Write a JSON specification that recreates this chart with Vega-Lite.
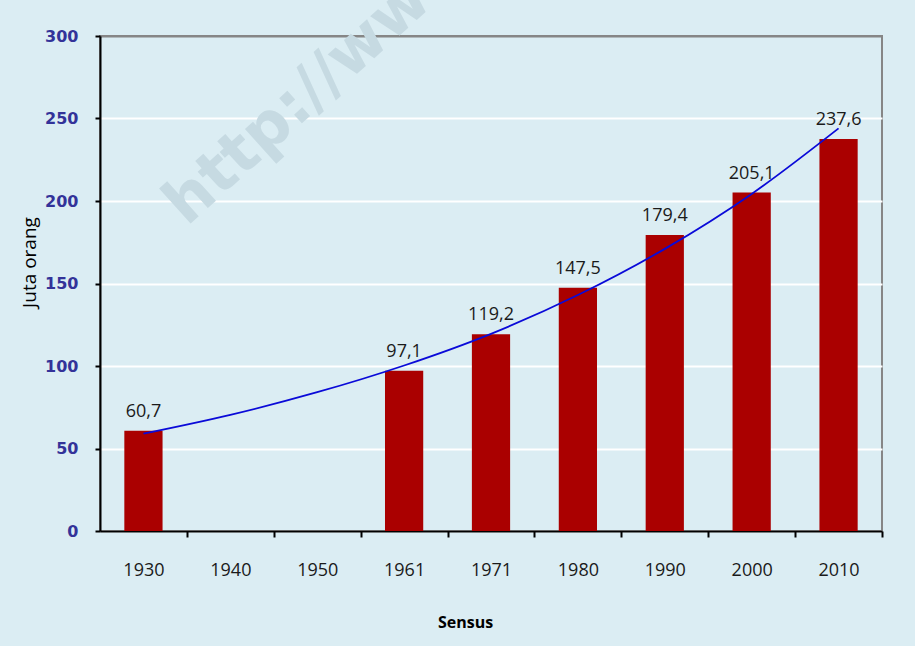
{
  "$schema": "https://vega.github.io/schema/vega-lite/v6.json",
  "width": 782,
  "height": 495,
  "autosize": "none",
  "padding": {"left": 100, "top": 36, "right": 33, "bottom": 115},
  "background": "#dbedf3",
  "config": {
    "view": {"stroke": "#868686", "strokeWidth": 2, "fill": "#dbedf3"}
  },
  "datasets": {
    "sensus": [
      {"tahun": "1930", "penduduk": 60.7, "label": "60,7", "tren": 59.0},
      {"tahun": "1940", "penduduk": null, "label": "", "tren": 70.4},
      {"tahun": "1950", "penduduk": null, "label": "", "tren": 84.1},
      {"tahun": "1961", "penduduk": 97.1, "label": "97,1", "tren": 100.3},
      {"tahun": "1971", "penduduk": 119.2, "label": "119,2", "tren": 119.5},
      {"tahun": "1980", "penduduk": 147.5, "label": "147,5", "tren": 143.0},
      {"tahun": "1990", "penduduk": 179.4, "label": "179,4", "tren": 171.0},
      {"tahun": "2000", "penduduk": 205.1, "label": "205,1", "tren": 204.3},
      {"tahun": "2010", "penduduk": 237.6, "label": "237,6", "tren": 244.0}
    ],
    "watermark": [
      {"tahun": "1930", "posisi": 173.6, "teks": "http://www."}
    ]
  },
  "layer": [
    {
      "data": {"name": "watermark"},
      "mark": {"type": "text", "font": "DejaVu Sans", "fontWeight": "bold", "fontSize": 62, "color": "#c6dae2", "align": "left", "baseline": "alphabetic", "angle": 318, "dx": 44, "dy": 16},
      "encoding": {
        "x": {"field": "tahun", "type": "nominal"},
        "y": {"field": "posisi", "type": "quantitative"},
        "text": {"field": "teks"}
      }
    },
    {
      "data": {"name": "sensus"},
      "mark": {"type": "bar", "color": "#aa0000"},
      "encoding": {
        "x": {
          "field": "tahun", "type": "nominal", "sort": null,
          "scale": {"paddingInner": 0.56, "paddingOuter": 0.28},
          "axis": {
            "title": "Sensus",
            "titleFont": "Open Sans", "titleFontWeight": "bold", "titleFontSize": 16, "titleColor": "#000000",
            "titleX": 365, "titleY": 91, "titleAlign": "center", "titleBaseline": "middle", "titleAnchor": null,
            "labelFont": "Open Sans", "labelFontSize": 18, "labelColor": "#1a1a1a", "labelAngle": 0,
            "labelAlign": "center", "labelBaseline": "middle", "labelPadding": 33,
            "tickOffset": 43.45, "labelOffset": -43.45,
            "tickSize": 6, "tickWidth": 2, "tickColor": "#000000",
            "domainColor": "#000000", "domainWidth": 2, "grid": false
          }
        },
        "y": {
          "field": "penduduk", "type": "quantitative",
          "scale": {"domain": [0, 300], "nice": false},
          "axis": {
            "title": "Juta orang",
            "titleFont": "Open Sans", "titleFontWeight": "normal", "titleFontSize": 19, "titleColor": "#000000",
            "titleX": -71, "titleY": 226, "titleAlign": "center", "titleBaseline": "middle", "titleAngle": -90,
            "values": [0, 50, 100, 150, 200, 250, 300],
            "labelFont": "DejaVu Sans", "labelFontWeight": "bold", "labelFontSize": 16, "labelColor": "#333399",
            "labelPadding": 17,
            "tickSize": 5, "tickWidth": 2, "tickColor": "#000000",
            "domainColor": "#000000", "domainWidth": 2,
            "grid": true, "gridWidth": 2,
            "gridColor": {"condition": {"test": "datum.value === 300", "value": "#868686"}, "value": "#ffffff"}
          }
        }
      }
    },
    {
      "data": {"name": "sensus"},
      "mark": {"type": "line", "color": "#0a0ad8", "strokeWidth": 1.8, "interpolate": "monotone"},
      "encoding": {
        "x": {"field": "tahun", "type": "nominal", "sort": null},
        "y": {"field": "tren", "type": "quantitative"}
      }
    },
    {
      "data": {"name": "sensus"},
      "transform": [{"filter": "datum.penduduk != null"}],
      "mark": {"type": "text", "font": "Open Sans", "fontSize": 18, "color": "#1a1a1a", "baseline": "alphabetic", "dy": -14},
      "encoding": {
        "x": {"field": "tahun", "type": "nominal", "sort": null},
        "y": {"field": "penduduk", "type": "quantitative"},
        "text": {"field": "label"}
      }
    }
  ]
}
